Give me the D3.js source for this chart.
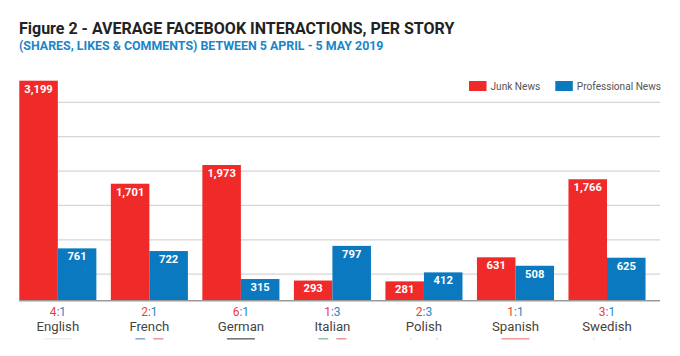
<!DOCTYPE html>
<html><head><meta charset="utf-8">
<script src="https://cdn.jsdelivr.net/npm/d3@7"></script>
<style>body{margin:0;background:#fff;}svg{display:block;font-family:Roboto,"Noto Sans",sans-serif;}</style>
</head><body>
<svg id="c" width="680" height="356"></svg>
<script>
const categories = ["English","French","German","Italian","Polish","Spanish","Swedish"];
const junkNews = [3199,1701,1973,293,281,631,1766];
const professionalNews = [761,722,315,797,412,508,625];
const ratioLeft = ["4","2","6","1","2","1","3"];
const ratioRight = ["1","1","1","3","3","1","1"];
const gridValues = [385,885,1385,1885,2385,2885];
const seriesNames = ["Junk News","Professional News"];
const colors = ["#EF2A29","#0A79C0"];
const flagTops = [
  [["#eeeeee",1]],
  [["#8fa8db",0.36],["#ffffff",0.28],["#f29a9a",0.36]],
  [["#777777",1]],
  [["#8fcca8",0.36],["#ffffff",0.28],["#f29a9a",0.36]],
  [["#e0e0e0",0.06],["#ffffff",0.88],["#e0e0e0",0.06]],
  [["#f5a0a0",1]],
  [["#e0e0e0",0.06],["#ffffff",0.88],["#e0e0e0",0.06]]
];

const svg = d3.select("#c");
const x0 = d3.scaleBand().domain(categories).range([19.3,660]).paddingInner(0.158).paddingOuter(0.079).align(0);
const x1 = d3.scaleBand().domain(seriesNames).range([0,x0.bandwidth()]);
const y = d3.scaleLinear().domain([0,3199]).range([300.7,80.7]);

// title
svg.append("text").attr("x",19).attr("y",33.5).attr("font-size",16).attr("font-weight",700).attr("fill","#222")
  .text("Figure 2 - AVERAGE FACEBOOK INTERACTIONS, PER STORY");
svg.append("text").attr("x",19).attr("y",49.5).attr("font-size",12.4).attr("font-weight",700).attr("fill","#1a86c9")
  .text("(SHARES, LIKES & COMMENTS) BETWEEN 5 APRIL - 5 MAY 2019");

// gridlines
svg.append("g").selectAll("line").data(gridValues).join("line")
  .attr("x1",19.3).attr("x2",660).attr("y1",d=>y(d)).attr("y2",d=>y(d))
  .attr("stroke","#d6d6d6").attr("stroke-width",1.3);

// legend
const lg = svg.append("g");
const legX = [469,555.3];
seriesNames.forEach((n,i)=>{
  lg.append("rect").attr("x",legX[i]).attr("y",81).attr("width",17.5).attr("height",10).attr("fill",colors[i]);
  lg.append("text").attr("x",legX[i]+21.5).attr("y",89.8).attr("font-size",10.1).attr("fill","#555").text(n);
});

// bars
const data = categories.map((c,i)=>({cat:c, vals:[junkNews[i],professionalNews[i]]}));
const groups = svg.append("g").selectAll("g").data(data).join("g")
  .attr("transform",d=>`translate(${x0(d.cat)},0)`);
groups.selectAll("rect").data(d=>d.vals.map((v,i)=>({v,s:seriesNames[i],i}))).join("rect")
  .attr("x",d=>x1(d.s)).attr("width",x1.bandwidth())
  .attr("y",d=>y(d.v)).attr("height",d=>y(0)-y(d.v))
  .attr("fill",d=>colors[d.i]);
groups.selectAll("text").data(d=>d.vals.map((v,i)=>({v,s:seriesNames[i],i}))).join("text")
  .attr("x",d=>x1(d.s)+x1.bandwidth()/2).attr("y",d=>y(d.v)+11.8)
  .attr("text-anchor","middle").attr("font-size",11.2).attr("font-weight",700).attr("fill","#fff")
  .text(d=>d3.format(",")(d.v));

// baseline
svg.append("line").attr("x1",19.3).attr("x2",660).attr("y1",y(0)).attr("y2",y(0))
  .attr("stroke","#9a9a9a").attr("stroke-width",1.6);

// ratio + category labels
const cx = c => x0(c)+x0.bandwidth()/2;
categories.forEach((c,i)=>{
  const t = svg.append("text").attr("x",cx(c)).attr("y",315.5).attr("text-anchor","middle").attr("font-size",12);
  t.append("tspan").attr("fill","#EF3B3A").text(ratioLeft[i]);
  t.append("tspan").attr("fill","#2A87C9").text(":"+ratioRight[i]);
  svg.append("text").attr("x",cx(c)).attr("y",330.5).attr("text-anchor","middle").attr("font-size",13.2).attr("fill","#444").text(c);
  // cropped flag tops
  let fx = cx(c)-14;
  flagTops[i].forEach(([col,f])=>{
    svg.append("rect").attr("x",fx).attr("y",338).attr("width",28*f).attr("height",1.6).attr("fill",col);
    fx += 28*f;
  });
});
</script>
</body></html>
